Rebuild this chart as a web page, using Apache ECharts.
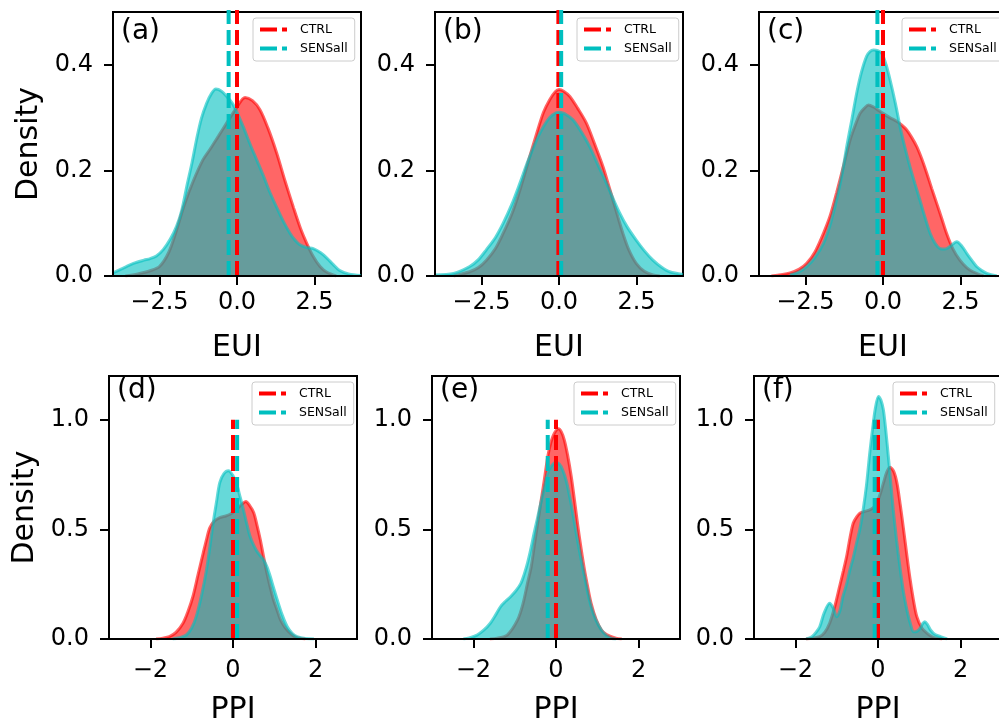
<!DOCTYPE html>
<html style="height: 100%">
<head>
    <meta charset="utf-8">
    <title>EUI / PPI density</title>
    <script src="https://cdn.jsdelivr.net/npm/echarts@6/dist/echarts.min.js"></script>
</head>
<body style="height: 100%; margin: 0; background: #fff">
<div id="main" style="width: 999px; height: 723px"></div>
<script type="text/javascript">
    // 数据：每个子图的核密度曲线 [x, density]
    var ctrlA = [[-3.6,0],[-3.2,0.004],[-2.8,0.01],[-2.5,0.018],[-2.2,0.045],[-1.95,0.087],[-1.7,0.135],[-1.41,0.18],[-1.1,0.22],[-0.87,0.24],[-0.6,0.265],[-0.33,0.29],[0,0.32],[0.26,0.338],[0.5,0.332],[0.74,0.315],[1.0,0.28],[1.28,0.233],[1.55,0.18],[1.82,0.13],[2.05,0.09],[2.25,0.062],[2.45,0.038],[2.68,0.018],[2.9,0.007],[3.2,0]];
    var sensA = [[-4.0,0.006],[-3.6,0.017],[-3.34,0.024],[-3.0,0.03],[-2.8,0.033],[-2.6,0.038],[-2.38,0.05],[-2.15,0.07],[-1.95,0.094],[-1.78,0.125],[-1.62,0.17],[-1.45,0.215],[-1.3,0.26],[-1.15,0.298],[-0.98,0.327],[-0.83,0.345],[-0.68,0.354],[-0.5,0.35],[-0.33,0.34],[-0.15,0.327],[0,0.31],[0.2,0.283],[0.42,0.25],[0.65,0.218],[0.85,0.19],[1.05,0.16],[1.28,0.13],[1.5,0.103],[1.71,0.081],[1.87,0.068],[2.03,0.059],[2.25,0.054],[2.46,0.052],[2.7,0.044],[2.9,0.034],[3.1,0.022],[3.3,0.011],[3.6,0.004],[4.0,0.001]];
    var ctrlB = [[-3.4,0],[-2.88,0.008],[-2.6,0.016],[-2.34,0.03],[-2.05,0.052],[-1.8,0.081],[-1.52,0.118],[-1.26,0.163],[-1.0,0.215],[-0.72,0.27],[-0.5,0.31],[-0.3,0.334],[-0.12,0.349],[0,0.353],[0.15,0.35],[0.35,0.34],[0.6,0.318],[0.88,0.29],[1.15,0.25],[1.42,0.207],[1.58,0.176],[1.74,0.144],[1.9,0.112],[2.06,0.081],[2.25,0.05],[2.49,0.024],[2.75,0.009],[3.03,0.002],[3.25,0]];
    var sensB = [[-4.0,0.002],[-3.4,0.005],[-2.88,0.018],[-2.6,0.031],[-2.34,0.05],[-2.05,0.073],[-1.8,0.1],[-1.52,0.136],[-1.26,0.176],[-1.0,0.218],[-0.72,0.258],[-0.5,0.283],[-0.3,0.3],[-0.1,0.309],[0.03,0.31],[0.25,0.305],[0.45,0.296],[0.72,0.273],[0.99,0.245],[1.26,0.21],[1.53,0.176],[1.75,0.146],[1.96,0.119],[2.2,0.093],[2.49,0.068],[2.75,0.048],[3.03,0.03],[3.3,0.017],[3.57,0.008],[4.0,0.003]];
    var ctrlC = [[-3.6,0],[-3.0,0.006],[-2.7,0.013],[-2.46,0.024],[-2.2,0.045],[-1.92,0.081],[-1.7,0.115],[-1.5,0.157],[-1.28,0.207],[-1.06,0.258],[-0.9,0.285],[-0.74,0.308],[-0.6,0.318],[-0.47,0.324],[-0.3,0.32],[-0.15,0.314],[0,0.308],[0.22,0.3],[0.44,0.293],[0.6,0.286],[0.76,0.277],[0.92,0.263],[1.09,0.245],[1.25,0.222],[1.41,0.195],[1.57,0.166],[1.73,0.138],[1.9,0.108],[2.05,0.081],[2.25,0.052],[2.48,0.03],[2.7,0.016],[2.9,0.008],[3.24,0]];
    var sensC = [[-3.0,0.002],[-2.7,0.008],[-2.46,0.018],[-2.2,0.035],[-1.92,0.062],[-1.7,0.098],[-1.5,0.144],[-1.33,0.19],[-1.17,0.245],[-1.0,0.298],[-0.85,0.346],[-0.7,0.385],[-0.53,0.416],[-0.42,0.425],[-0.31,0.428],[-0.17,0.427],[-0.04,0.422],[0.1,0.4],[0.23,0.371],[0.4,0.327],[0.55,0.283],[0.7,0.245],[0.87,0.207],[1.03,0.175],[1.19,0.144],[1.35,0.112],[1.52,0.081],[1.68,0.062],[1.84,0.052],[2.0,0.051],[2.16,0.056],[2.38,0.065],[2.55,0.056],[2.7,0.043],[2.86,0.03],[3.02,0.018],[3.2,0.01],[3.35,0.005],[3.67,0]];
    var ctrlD = [[-1.86,0],[-1.7,0.004],[-1.54,0.011],[-1.38,0.03],[-1.21,0.072],[-1.09,0.125],[-0.97,0.194],[-0.85,0.29],[-0.72,0.393],[-0.64,0.455],[-0.56,0.508],[-0.44,0.54],[-0.32,0.554],[-0.2,0.56],[-0.07,0.569],[0.09,0.592],[0.2,0.612],[0.31,0.627],[0.4,0.61],[0.5,0.577],[0.58,0.52],[0.66,0.454],[0.74,0.375],[0.82,0.301],[0.9,0.237],[0.98,0.179],[1.07,0.13],[1.15,0.087],[1.27,0.05],[1.39,0.026],[1.5,0.01],[1.63,0.003],[1.75,0]];
    var sensD = [[-1.46,0],[-1.3,0.006],[-1.13,0.018],[-1.0,0.05],[-0.89,0.102],[-0.76,0.2],[-0.64,0.317],[-0.56,0.42],[-0.48,0.53],[-0.4,0.625],[-0.32,0.714],[-0.22,0.755],[-0.11,0.768],[0,0.745],[0.09,0.706],[0.17,0.65],[0.25,0.592],[0.33,0.528],[0.41,0.47],[0.5,0.428],[0.58,0.4],[0.66,0.38],[0.74,0.362],[0.82,0.33],[0.9,0.286],[0.98,0.235],[1.07,0.179],[1.19,0.11],[1.31,0.057],[1.43,0.026],[1.55,0.011],[1.75,0.002],[1.96,0]];
    var ctrlE = [[-1.6,0],[-1.42,0.004],[-1.18,0.018],[-0.93,0.087],[-0.8,0.16],[-0.69,0.254],[-0.6,0.33],[-0.53,0.42],[-0.45,0.52],[-0.37,0.619],[-0.28,0.73],[-0.2,0.832],[-0.12,0.9],[-0.04,0.939],[0.06,0.959],[0.13,0.945],[0.2,0.909],[0.28,0.84],[0.37,0.74],[0.45,0.63],[0.53,0.513],[0.61,0.41],[0.69,0.315],[0.77,0.235],[0.85,0.163],[0.97,0.09],[1.1,0.041],[1.22,0.02],[1.34,0.011],[1.45,0.004],[1.59,0]];
    var sensE = [[-2.24,0],[-2.1,0.005],[-1.91,0.018],[-1.75,0.04],[-1.59,0.072],[-1.46,0.11],[-1.34,0.148],[-1.22,0.172],[-1.1,0.193],[-0.97,0.22],[-0.85,0.254],[-0.77,0.295],[-0.69,0.346],[-0.61,0.41],[-0.53,0.483],[-0.45,0.55],[-0.37,0.619],[-0.28,0.69],[-0.2,0.756],[-0.1,0.792],[0,0.805],[0.08,0.798],[0.16,0.772],[0.25,0.72],[0.33,0.65],[0.41,0.57],[0.49,0.483],[0.59,0.38],[0.69,0.285],[0.77,0.21],[0.85,0.148],[0.97,0.085],[1.1,0.041],[1.22,0.015],[1.34,0.003],[1.45,0]];
    var ctrlF = [[-1.74,0],[-1.58,0.004],[-1.41,0.011],[-1.29,0.03],[-1.17,0.072],[-1.05,0.145],[-0.93,0.239],[-0.84,0.31],[-0.76,0.376],[-0.68,0.46],[-0.6,0.528],[-0.52,0.556],[-0.44,0.574],[-0.32,0.582],[-0.2,0.589],[-0.11,0.6],[-0.03,0.62],[0.05,0.66],[0.13,0.711],[0.21,0.76],[0.29,0.784],[0.38,0.765],[0.46,0.711],[0.54,0.61],[0.62,0.498],[0.7,0.38],[0.78,0.269],[0.86,0.175],[0.94,0.102],[1.06,0.05],[1.19,0.026],[1.31,0.01],[1.43,0.003],[1.55,0]];
    var sensF = [[-1.74,0],[-1.6,0.01],[-1.5,0.03],[-1.41,0.056],[-1.3,0.12],[-1.17,0.163],[-1.08,0.14],[-1.0,0.102],[-0.92,0.13],[-0.85,0.193],[-0.76,0.25],[-0.68,0.315],[-0.6,0.37],[-0.52,0.437],[-0.44,0.5],[-0.36,0.589],[-0.28,0.7],[-0.2,0.848],[-0.13,0.96],[-0.07,1.046],[0.01,1.107],[0.07,1.09],[0.13,1.046],[0.19,0.95],[0.25,0.833],[0.31,0.71],[0.37,0.589],[0.45,0.45],[0.54,0.315],[0.62,0.21],[0.7,0.132],[0.78,0.072],[0.86,0.033],[0.94,0.035],[1.02,0.049],[1.08,0.07],[1.13,0.079],[1.2,0.065],[1.27,0.041],[1.38,0.02],[1.51,0.011],[1.67,0]];

    // 均值（虚线）
    var ctrlMeans = [0.0, -0.02, 0.0, 0.0, 0.0, 0.0];
    var sensMeans = [-0.27, 0.07, -0.18, 0.1, -0.2, -0.08];

    // 刻度
    var euiTicks = [-2.5, 0, 2.5];
    var ppiTicks = [-2, 0, 2];
    var euiDensityTicks = [0, 0.2, 0.4];
    var ppiDensityTicks = [0, 0.5, 1.0];
    var panelLabels = ['(a)', '(b)', '(c)', '(d)', '(e)', '(f)'];
    var names = ['CTRL', 'SENSall'];

    var ctrlList = [ctrlA, ctrlB, ctrlC, ctrlD, ctrlE, ctrlF];
    var sensList = [sensA, sensB, sensC, sensD, sensE, sensF];

    var RED = '#ff0000';
    var CYAN = '#00bfbf';
    var FONT = 'DejaVu Sans';
    var dashIcon = 'path://M0,0H17V4H0Z M22,0H27V4H22Z';

    // 子图位置
    var grids = [
        {left: 113, top: 12, width: 248, height: 264},
        {left: 435, top: 12, width: 248, height: 264},
        {left: 759, top: 12, width: 248, height: 264},
        {left: 109, top: 376, width: 248, height: 263},
        {left: 432, top: 376, width: 248, height: 263},
        {left: 754, top: 376, width: 248, height: 263}
    ];
    var legendLeft = [253, 577, 902, 252, 574, 893];

    function fmt(digits) {
        return function (v) {
            var s = digits ? v.toFixed(digits) : String(Math.round(v));
            return s.replace('-', '\u2212');
        };
    }

    var myChart = echarts.init(document.getElementById('main'));

    var option = {
        animation: false,
        backgroundColor: '#fff',
        textStyle: {fontFamily: FONT},
        grid: [],
        xAxis: [],
        yAxis: [],
        title: [],
        legend: [],
        series: []
    };

    var axisLineStyle = {color: '#000', width: 2};

    for (var i = 0; i < 6; i++) {
        var isTop = i < 3;
        var g = grids[i];
        option.grid.push({
            left: g.left, top: g.top, width: g.width, height: g.height,
            outerBoundsMode: 'none', containLabel: false,
            show: true, borderColor: '#000', borderWidth: 2, backgroundColor: 'transparent'
        });
        option.xAxis.push({
            type: 'value', gridIndex: i, z: 10,
            min: isTop ? -4 : -3, max: isTop ? 4 : 3,
            name: isTop ? 'EUI' : 'PPI', nameLocation: 'middle', nameGap: isTop ? 57 : 56,
            nameTextStyle: {fontSize: 30, color: '#000', fontFamily: FONT},
            axisLine: {show: true, onZero: false, lineStyle: axisLineStyle},
            axisTick: {show: true, length: 9, lineStyle: axisLineStyle,
                customValues: isTop ? euiTicks : ppiTicks},
            axisLabel: {fontSize: 24, color: '#000', margin: isTop ? 15 : 20, fontFamily: FONT,
                customValues: isTop ? euiTicks : ppiTicks, formatter: fmt(isTop ? 1 : 0)},
            splitLine: {show: false}
        });
        option.yAxis.push({
            type: 'value', gridIndex: i, z: 10,
            min: 0, max: isTop ? 0.5 : 1.2,
            name: (i === 0 || i === 3) ? 'Density' : '', nameLocation: 'middle', nameGap: 69,
            nameTextStyle: {fontSize: 30, color: '#000', fontFamily: FONT},
            axisLine: {show: true, onZero: false, lineStyle: axisLineStyle},
            axisTick: {show: true, length: 9, lineStyle: axisLineStyle,
                customValues: isTop ? euiDensityTicks : ppiDensityTicks},
            axisLabel: {fontSize: 24, color: '#000', margin: 20, fontFamily: FONT,
                customValues: isTop ? euiDensityTicks : ppiDensityTicks, formatter: fmt(1)},
            splitLine: {show: false}
        });
        option.title.push({
            text: panelLabels[i],
            left: g.left + 8, top: isTop ? g.top + 6 : g.top + 1,
            padding: 0,
            textStyle: {fontSize: 28, fontWeight: 'normal', color: '#000', fontFamily: FONT}
        });
        option.legend.push({
            orient: 'vertical',
            left: legendLeft[i], top: g.top + 6,
            padding: [5, 7, 6, 7],
            itemGap: 6, itemWidth: 27, itemHeight: 4,
            backgroundColor: 'rgba(255,255,255,0.8)',
            borderColor: '#cccccc', borderWidth: 1, borderRadius: 3,
            textStyle: {fontSize: 12.5, color: '#000', fontFamily: FONT, padding: [0, 0, 0, 8]},
            data: [
                {name: names[0], icon: dashIcon, itemStyle: {color: RED, opacity: 1, borderWidth: 0}},
                {name: names[1], icon: dashIcon, itemStyle: {color: CYAN, opacity: 1, borderWidth: 0}}
            ]
        });

        // 密度曲线
        option.series.push({
            name: names[0], type: 'line', xAxisIndex: i, yAxisIndex: i,
            data: ctrlList[i], smooth: 0.3, showSymbol: false, symbol: 'none', z: 2,
            lineStyle: {color: RED, width: 3, opacity: 0.6},
            itemStyle: {color: RED},
            areaStyle: {color: RED, opacity: 0.6}
        });
        option.series.push({
            name: names[1], type: 'line', xAxisIndex: i, yAxisIndex: i,
            data: sensList[i], smooth: 0.3, showSymbol: false, symbol: 'none', z: 3,
            lineStyle: {color: CYAN, width: 3, opacity: 0.6},
            itemStyle: {color: CYAN},
            areaStyle: {color: CYAN, opacity: 0.6}
        });
        // 均值竖线 (0 到 1)
        option.series.push({
            name: names[0], type: 'line', xAxisIndex: i, yAxisIndex: i,
            data: [[ctrlMeans[i], 0], [ctrlMeans[i], 1]], symbol: 'none', z: 4,
            lineStyle: {color: RED, width: 4, type: [15, 6]},
            itemStyle: {color: RED}
        });
        option.series.push({
            name: names[1], type: 'line', xAxisIndex: i, yAxisIndex: i,
            data: [[sensMeans[i], 0], [sensMeans[i], 1]], symbol: 'none', z: 5,
            lineStyle: {color: CYAN, width: 4, type: [15, 6]},
            itemStyle: {color: CYAN}
        });
    }

    myChart.setOption(option);
</script>
</body>
</html>
